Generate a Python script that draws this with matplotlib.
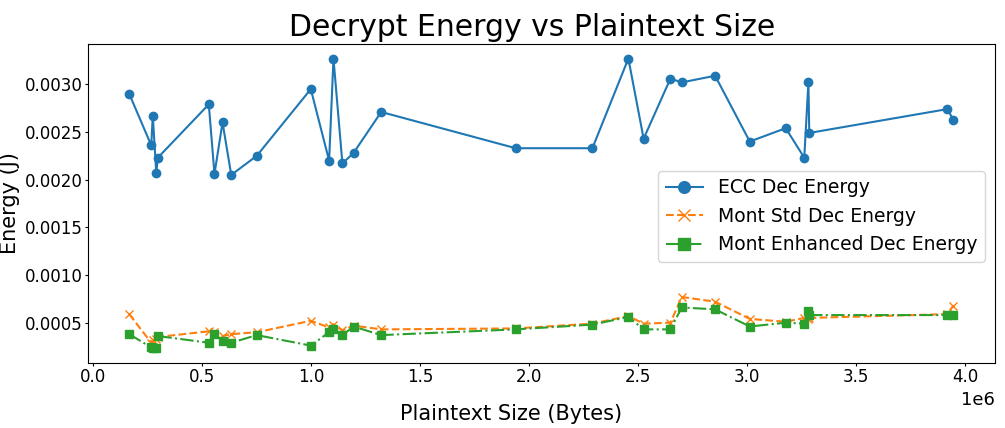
import matplotlib.pyplot as plt

# plaintext sizes in bytes (x values, shared by all three series)
sizes = [0.164e6, 0.265e6, 0.272e6, 0.288e6, 0.295e6, 0.529e6, 0.555e6, 0.592e6,
         0.632e6, 0.749e6, 0.997e6, 1.081e6, 1.101e6, 1.142e6, 1.193e6, 1.320e6,
         1.937e6, 2.289e6, 2.454e6, 2.524e6, 2.647e6, 2.699e6, 2.852e6, 3.011e6,
         3.176e6, 3.261e6, 3.280e6, 3.284e6, 3.917e6, 3.945e6]

ecc_energy = [0.00290, 0.00236, 0.00267, 0.00207, 0.00223, 0.00279, 0.00206, 0.00260,
              0.00205, 0.00225, 0.00295, 0.00220, 0.00327, 0.00217, 0.00228, 0.00271,
              0.00233, 0.00233, 0.00327, 0.00243, 0.00306, 0.00302, 0.00309, 0.00240,
              0.00254, 0.00223, 0.00302, 0.00249, 0.00274, 0.00263]

mont_std_energy = [0.00059, 0.00029, 0.00032, 0.00033, 0.00035, 0.00041, 0.00040, 0.00036,
                   0.00038, 0.00040, 0.00052, 0.00045, 0.00048, 0.00042, 0.00047, 0.00043,
                   0.00044, 0.00049, 0.00057, 0.00049, 0.00050, 0.00077, 0.00072, 0.00054,
                   0.00051, 0.00055, 0.00054, 0.00055, 0.00059, 0.00068]

mont_enh_energy = [0.00038, 0.00024, 0.00023, 0.00023, 0.00036, 0.00029, 0.00038, 0.00031,
                   0.00029, 0.00037, 0.00026, 0.00040, 0.00043, 0.00037, 0.00046, 0.00037,
                   0.00043, 0.00048, 0.00056, 0.00043, 0.00043, 0.00066, 0.00064, 0.00046,
                   0.00050, 0.00049, 0.00062, 0.00058, 0.00058, 0.00058]

fig = plt.figure(figsize=(10.05, 4.28), dpi=100)
ax = fig.add_axes([0.0876, 0.152, 0.902, 0.745])

ax.plot(sizes, ecc_energy, '-o', color='#1f77b4', markersize=6, linewidth=1.5,
        label='ECC Dec Energy')
ax.plot(sizes, mont_std_energy, '--x', color='#ff7f0e', markersize=6, linewidth=1.5,
        label='Mont Std Dec Energy')
ax.plot(sizes, mont_enh_energy, '-.s', color='#2ca02c', markersize=6, linewidth=1.5,
        label='Mont Enhanced Dec Energy')

ax.set_xticks([0, 0.5e6, 1.0e6, 1.5e6, 2.0e6, 2.5e6, 3.0e6, 3.5e6, 4.0e6])
ax.tick_params(labelsize=12, length=2.5, pad=1.5)
ax.xaxis.get_offset_text().set_fontsize(13)

ax.set_title('Decrypt Energy vs Plaintext Size', fontsize=21.5, x=0.49, pad=6)
ax.set_xlabel('Plaintext Size (Bytes)', fontsize=15)
ax.xaxis.set_label_coords(0.467, -0.13)
ax.set_ylabel('Energy (J)', fontsize=15, labelpad=3)
ax.legend(loc='center right', bbox_to_anchor=(1.0, 0.46), fontsize=13.5, markerscale=1.4)

fig.savefig('out.png', dpi=100)
